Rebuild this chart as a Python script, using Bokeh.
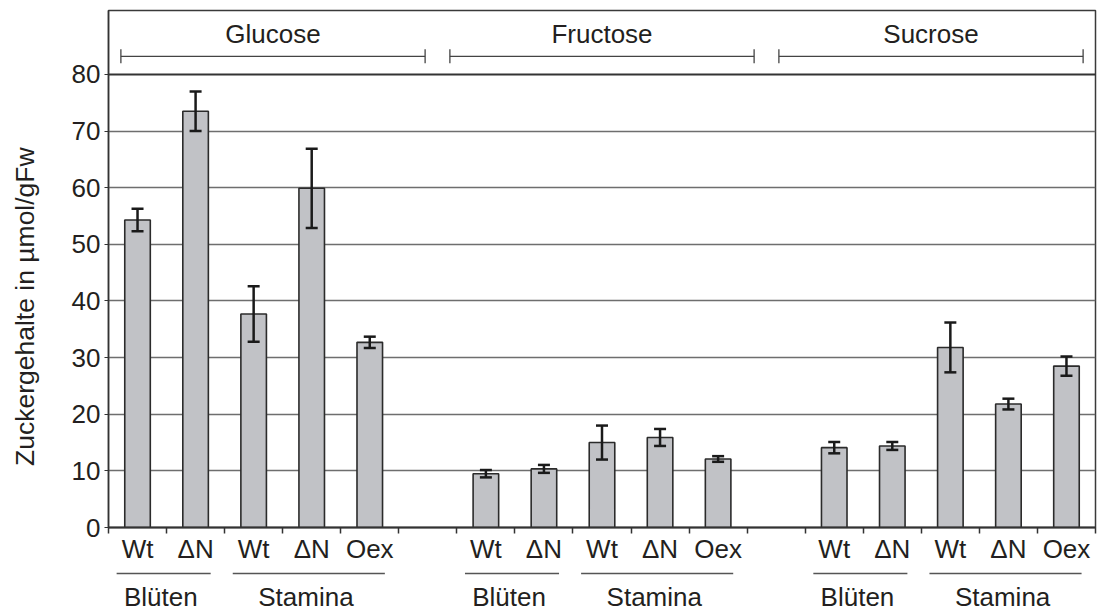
import math
from bokeh.plotting import figure
from bokeh.models import Range1d, FixedTicker, Whisker, TeeHead, ColumnDataSource, Span
from bokeh.layouts import column, row
from bokeh.core.properties import value
from bokeh.embed import file_html
from bokeh.resources import INLINE

# ---------------- data ----------------
sugars = ["Glucose", "Fructose", "Sucrose"]
genotypes = ["Wt", "ΔN", "Wt", "ΔN", "Oex"]
tissues = ["Blüten", "Stamina"]
tissue_sizes = [2, 3]

glucose = [54.3, 73.5, 37.7, 59.9, 32.7]
glucose_err = [2.0, 3.5, 4.9, 7.0, 1.0]
fructose = [9.5, 10.35, 15.0, 15.9, 12.1]
fructose_err = [0.65, 0.7, 3.0, 1.5, 0.5]
sucrose = [14.1, 14.4, 31.8, 21.8, 28.5]
sucrose_err = [1.0, 0.7, 4.4, 0.95, 1.7]

y_ticks = [0, 10, 20, 30, 40, 50, 60, 70, 80]
y_label = "Zuckergehalte in µmol/gFw"

# ---------------- layout constants ----------------
FONT = "Liberation Sans"
TXT = "#231f20"
TOTAL_W = 1097
LABEL_W = 60
W = TOTAL_W - LABEL_W
MAIN_H = 571
FOOT_H = 39
TOP_B = 10
BOT_B = 44
SLOT = len(genotypes) + 1
NSLOT = SLOT * len(sugars) - 1
Y_TOP = 91.3
LABEL_Y = 87.2
BRACKET_Y = 83.2
YTITLE_Y = 39.0

values = [glucose, fructose, sucrose]
errors = [glucose_err, fructose_err, sucrose_err]

xs, tops, ups, los = [], [], [], []
for g, (vals, errs) in enumerate(zip(values, errors)):
    for i, (v, e) in enumerate(zip(vals, errs)):
        xs.append(g * SLOT + i)
        tops.append(v)
        ups.append(v + e)
        los.append(v - e)
src = ColumnDataSource(dict(x=xs, top=tops, upper=ups, lower=los))

x_range = Range1d(-0.5, NSLOT - 0.5)
y_range = Range1d(0, Y_TOP)
p = figure(width=W, height=MAIN_H, x_range=x_range, y_range=y_range,
           output_backend="svg", toolbar_location=None,
           min_border_left=108 - LABEL_W, min_border_right=2,
           min_border_top=TOP_B, min_border_bottom=BOT_B)
p.background_fill_color = "white"
p.outline_line_color = "#3a3a3a"
p.outline_line_width = 1.5

# grid
p.xgrid.visible = False
p.ygrid.ticker = FixedTicker(ticks=y_ticks[1:-1])
p.ygrid.grid_line_color = "#6e6e6e"
p.ygrid.grid_line_width = 1.3
p.add_layout(Span(location=y_ticks[-1], dimension="width", line_color="#333333", line_width=2))

# y axis
ya = p.yaxis[0]
ya.ticker = FixedTicker(ticks=y_ticks)
ya.axis_line_color = "#333333"
ya.axis_line_width = 1.5
ya.major_tick_out = 4
ya.major_tick_in = 0
ya.minor_tick_line_color = None
ya.major_tick_line_color = "#333333"
ya.major_label_text_font = FONT
ya.major_label_text_font_size = "26px"
ya.major_label_text_color = TXT
ya.major_label_standoff = 4

# x axis: labels at bar centres, tick marks at slot boundaries (minor ticks)
xa = p.xaxis[0]
xa.ticker = FixedTicker(ticks=xs, minor_ticks=[k - 0.5 for k in range(NSLOT + 1)])
xa.major_label_overrides = {x: genotypes[i % len(genotypes)] for i, x in enumerate(xs)}
xa.major_tick_out = 0
xa.major_tick_in = 0
xa.major_tick_line_color = None
xa.minor_tick_out = 6
xa.minor_tick_in = 0
xa.minor_tick_line_color = "#333333"
xa.minor_tick_line_width = 1.5
xa.axis_line_color = "#333333"
xa.axis_line_width = 2
xa.major_label_text_font = FONT
xa.major_label_text_font_size = "26px"
xa.major_label_text_color = TXT
xa.major_label_standoff = 0

# bars
p.vbar(x="x", top="top", bottom=0, width=0.44, source=src,
       fill_color="#c1c2c6", line_color="#2b2b2b", line_width=1.6)

# error bars
head = dict(size=12, line_width=2.5, line_color="#1a1a1a")
p.add_layout(Whisker(source=src, base="x", upper="upper", lower="lower",
                     line_color="#1a1a1a", line_width=2.5, level="overlay",
                     upper_head=TeeHead(**head), lower_head=TeeHead(**head)))

# sugar labels + brackets
third = NSLOT / len(sugars)
centers = [-0.5 + (g + 0.5) * third for g in range(len(sugars))]
half = 2.62
bsrc = ColumnDataSource(dict(base=[BRACKET_Y] * len(sugars),
                             lower=[c - half for c in centers],
                             upper=[c + half for c in centers]))
bhead = dict(size=14, line_width=1.3, line_color="#444444")
p.add_layout(Whisker(source=bsrc, base="base", upper="upper", lower="lower", dimension="width",
                     line_color="#444444", line_width=1.3, level="overlay",
                     upper_head=TeeHead(**bhead), lower_head=TeeHead(**bhead)))
p.text(x=centers, y=[LABEL_Y] * len(sugars), text=sugars, text_align="center",
       text_baseline="middle", text_font=value(FONT), text_font_size="26px", text_color=TXT)

# footer: tissue underlines and labels
f = figure(width=W, height=FOOT_H, x_range=x_range, y_range=Range1d(0, FOOT_H),
           output_backend="svg", toolbar_location=None,
           x_axis_location=None, y_axis_location=None,
           min_border_left=108 - LABEL_W, min_border_right=2, min_border_top=0, min_border_bottom=0)
f.grid.visible = False
f.outline_line_color = None

pad_l, pad_r = 0.14, 0.24
ux0, ux1, tx, tt = [], [], [], []
for g in range(len(sugars)):
    start = g * SLOT - 0.5
    for name, n in zip(tissues, tissue_sizes):
        ux0.append(start + pad_l)
        ux1.append(start + n - pad_r)
        tx.append(start + n / 2 - (pad_r - pad_l))
        tt.append(name)
        start += n
f.segment(x0=ux0, y0=[FOOT_H - 2] * len(ux0), x1=ux1, y1=[FOOT_H - 2] * len(ux0),
          line_color="#555555", line_width=1.3)
f.text(x=tx, y=[14] * len(tx), text=tt, text_align="center", text_baseline="middle",
       text_font=value(FONT), text_font_size="26px", text_color=TXT)

# y-axis title in a narrow strip sharing the main y scale
lf = figure(width=LABEL_W, height=MAIN_H + FOOT_H, x_range=Range1d(0, LABEL_W), y_range=y_range,
            output_backend="svg", toolbar_location=None,
            x_axis_location=None, y_axis_location=None,
            min_border_left=0, min_border_right=0, min_border_top=TOP_B,
            min_border_bottom=MAIN_H + FOOT_H - (MAIN_H - BOT_B))
lf.grid.visible = False
lf.outline_line_color = None
lf.text(x=[24.8], y=[YTITLE_Y], text=[y_label], angle=math.pi / 2, text_align="center",
        text_baseline="middle", text_font=value(FONT), text_font_size="26.5px", text_color=TXT)

layout = row(lf, column(p, f, spacing=0), spacing=0)
open("out.html", "w").write(file_html(layout, INLINE))
